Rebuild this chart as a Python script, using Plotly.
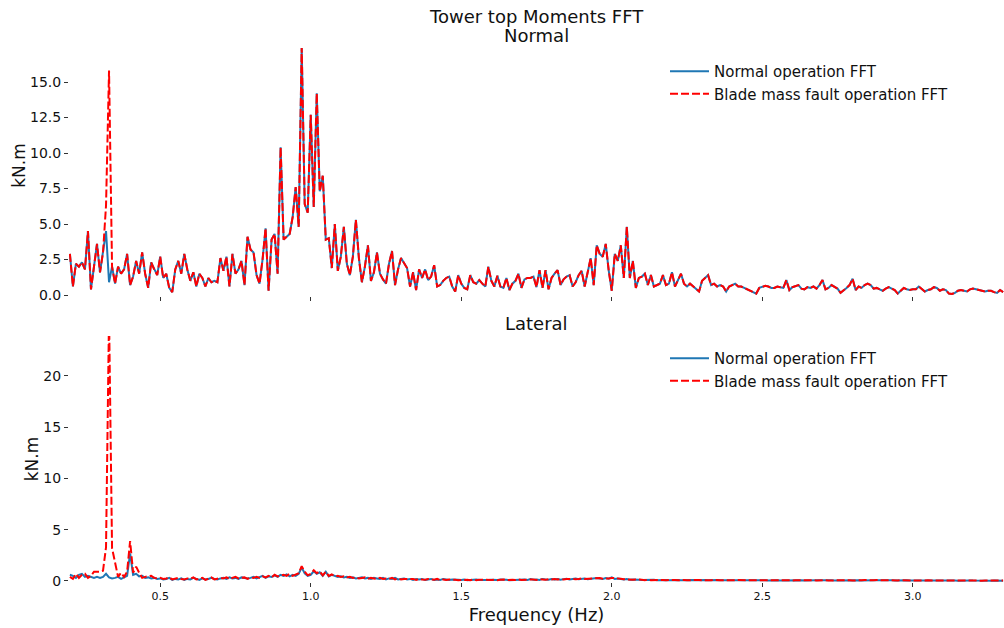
import numpy as np
import plotly.graph_objects as go

# Frequency grid (Hz), 0.01 Hz resolution from 0.20 to 3.30
freq = np.round(0.20 + 0.01 * np.arange(311), 2)

# Tower top moments FFT - "Normal" direction (kN.m)
normal_top = [
    2.9, 0.6, 2.2, 2.0, 2.3, 1.8, 4.5, 0.4, 2.0, 3.6,
    1.6, 3.0, 4.5, 0.9, 2.0, 0.8, 2.0, 1.5, 1.8, 2.9,
    0.7, 1.3, 2.4, 1.5, 3.0, 1.5, 0.5, 2.3, 1.8, 1.4,
    2.7, 1.2, 1.5, 0.5, 0.2, 1.8, 2.4, 1.5, 2.9, 1.8,
    1.0, 1.6, 0.6, 1.5, 1.2, 0.6, 1.2, 0.9, 1.0, 0.9,
    2.6, 1.7, 2.7, 0.6, 2.9, 1.5, 1.8, 2.4, 0.7, 4.1,
    3.2, 3.0, 1.4, 0.8, 2.5, 4.7, 0.3, 3.9, 4.3, 1.5,
    10.4, 3.9, 4.1, 4.3, 5.5, 7.6, 4.8, 17.4, 6.4, 5.8,
    12.7, 6.2, 14.2, 7.3, 8.4, 3.9, 4.0, 1.9, 5.0, 1.7,
    2.7, 4.8, 2.2, 1.4, 2.7, 5.3, 2.6, 0.9, 2.0, 3.5,
    1.0, 1.6, 3.0, 1.5, 1.1, 0.8, 2.2, 3.1, 0.7, 1.8,
    2.6, 2.2, 1.9, 0.6, 1.6, 0.35, 1.8, 1.2, 1.8, 1.05,
    1.3, 2.1, 0.6, 0.7, 1.0, 1.2, 1.3, 0.6, 0.25, 1.4,
    0.8, 0.5, 0.4, 1.4, 0.9, 0.8, 1.05, 0.8, 0.6, 2.0,
    1.0, 0.6, 1.35, 0.6, 0.5, 1.2, 0.35, 0.8, 1.0, 1.5,
    0.5, 1.1, 1.2, 1.2, 1.3, 0.55, 1.75, 0.5, 1.75, 0.4,
    1.2, 1.5, 1.75, 0.7, 1.1, 1.3, 1.4, 0.6, 0.9, 1.4,
    1.7, 0.6, 1.5, 2.6, 0.7, 3.5, 2.9, 2.7, 3.6, 1.7,
    0.3, 2.9, 2.4, 3.5, 1.2, 4.8, 1.2, 2.4, 0.5, 1.2,
    1.3, 1.5, 0.7, 1.4, 0.6, 0.7, 0.8, 1.4, 0.7, 0.8,
    1.6, 0.6, 1.0, 1.5, 0.8, 0.6, 0.8, 0.6, 0.4, 0.25,
    1.0, 1.2, 1.4, 0.7, 0.8, 0.6, 0.7, 0.6, 0.25, 0.6,
    0.7, 0.8, 0.6, 0.6, 0.5, 0.4, 0.35, 0.2, 0.1, 0.5,
    0.6, 0.65, 0.6, 0.5, 0.5, 0.6, 0.55, 0.5, 1.05, 0.35,
    0.55, 0.6, 0.7, 0.45, 0.4, 0.55, 0.5, 0.6, 0.45, 0.7,
    1.05, 0.4, 0.5, 0.7, 0.6, 0.45, 0.15, 0.3, 0.5, 0.7,
    1.15, 0.35, 0.6, 0.5, 0.7, 0.8, 0.7, 0.45, 0.5, 0.4,
    0.3, 0.45, 0.55, 0.45, 0.35, 0.1, 0.3, 0.5, 0.4, 0.35,
    0.4, 0.4, 0.6, 0.4, 0.25, 0.35, 0.4, 0.55, 0.5, 0.3,
    0.4, 0.35, 0.1, 0.07, 0.15, 0.3, 0.35, 0.3, 0.25, 0.4,
    0.45, 0.4, 0.35, 0.3, 0.25, 0.3, 0.3, 0.2, 0.15, 0.35,
    0.2,
]

fault_top = [
    2.9, 0.6, 2.2, 2.0, 2.3, 1.8, 4.5, 0.4, 2.0, 3.6,
    1.6, 3.0, 6.3, 15.8, 2.0, 0.8, 2.0, 1.5, 1.8, 2.9,
    0.7, 1.3, 2.4, 1.5, 3.0, 1.5, 0.5, 2.3, 1.8, 1.4,
    2.7, 1.2, 1.5, 0.5, 0.2, 1.8, 2.4, 1.5, 2.9, 1.8,
    1.0, 1.6, 0.6, 1.5, 1.2, 0.6, 1.2, 0.9, 1.0, 0.9,
    2.6, 1.7, 2.7, 0.6, 2.9, 1.5, 1.8, 2.4, 0.7, 4.1,
    3.2, 3.0, 1.4, 0.8, 2.5, 4.7, 0.3, 3.9, 4.3, 1.5,
    10.4, 3.9, 4.1, 4.3, 5.5, 7.6, 4.8, 17.4, 6.4, 5.8,
    12.7, 6.2, 14.2, 7.3, 8.4, 3.9, 4.0, 1.9, 5.0, 1.7,
    2.7, 4.8, 2.2, 1.4, 2.7, 5.3, 2.6, 0.9, 2.0, 3.5,
    1.0, 1.6, 3.0, 1.5, 1.1, 0.8, 2.2, 3.1, 0.7, 1.8,
    2.6, 2.2, 1.9, 0.6, 1.6, 0.35, 1.8, 1.2, 1.8, 1.05,
    1.3, 2.1, 0.6, 0.7, 1.0, 1.2, 1.3, 0.6, 0.25, 1.4,
    0.8, 0.5, 0.4, 1.4, 0.9, 0.8, 1.05, 0.8, 0.6, 2.0,
    1.0, 0.6, 1.35, 0.6, 0.5, 1.2, 0.35, 0.8, 1.0, 1.5,
    0.5, 1.1, 1.2, 1.2, 1.3, 0.55, 1.75, 0.5, 1.75, 0.4,
    1.2, 1.5, 1.75, 0.7, 1.1, 1.3, 1.4, 0.6, 0.9, 1.4,
    1.7, 0.6, 1.5, 2.6, 0.7, 3.5, 2.9, 2.7, 3.6, 1.7,
    0.3, 2.9, 2.4, 3.5, 1.2, 4.8, 1.2, 2.4, 0.5, 1.2,
    1.3, 1.5, 0.7, 1.4, 0.6, 0.7, 0.8, 1.4, 0.7, 0.8,
    1.6, 0.6, 1.0, 1.5, 0.8, 0.6, 0.8, 0.6, 0.4, 0.25,
    1.0, 1.2, 1.4, 0.7, 0.8, 0.6, 0.7, 0.6, 0.25, 0.6,
    0.7, 0.8, 0.6, 0.6, 0.5, 0.4, 0.35, 0.2, 0.1, 0.5,
    0.6, 0.65, 0.6, 0.5, 0.5, 0.6, 0.55, 0.5, 1.05, 0.35,
    0.55, 0.6, 0.7, 0.45, 0.4, 0.55, 0.5, 0.6, 0.45, 0.7,
    1.05, 0.4, 0.5, 0.7, 0.6, 0.45, 0.15, 0.3, 0.5, 0.7,
    1.15, 0.35, 0.6, 0.5, 0.7, 0.8, 0.7, 0.45, 0.5, 0.4,
    0.3, 0.45, 0.55, 0.45, 0.35, 0.1, 0.3, 0.5, 0.4, 0.35,
    0.4, 0.4, 0.6, 0.4, 0.25, 0.35, 0.4, 0.55, 0.5, 0.3,
    0.4, 0.35, 0.1, 0.07, 0.15, 0.3, 0.35, 0.3, 0.25, 0.4,
    0.45, 0.4, 0.35, 0.3, 0.25, 0.3, 0.3, 0.2, 0.15, 0.35,
    0.2,
]

# Tower top moments FFT - "Lateral" direction (kN.m)
normal_lat = [
    0.6, 0.5, 0.3, 0.6, 0.7, 0.4, 0.5, 0.4, 0.3, 0.4,
    0.3, 0.4, 0.7, 0.35, 0.25, 0.3, 0.4, 0.2, 0.35, 0.5,
    2.7, 0.6, 0.7, 0.45, 0.5, 0.3, 0.35, 0.25, 0.3, 0.2,
    0.25, 0.15, 0.2, 0.3, 0.1, 0.2, 0.15, 0.25, 0.1, 0.2,
    0.15, 0.3, 0.2, 0.1, 0.25, 0.15, 0.2, 0.3, 0.2, 0.15,
    0.25, 0.3, 0.2, 0.35, 0.25, 0.3, 0.2, 0.35, 0.3, 0.25,
    0.3, 0.4, 0.25, 0.35, 0.5, 0.3, 0.45, 0.4, 0.55, 0.4,
    0.6, 0.5, 0.65, 0.45, 0.6, 0.5, 0.7, 1.3, 0.75, 0.5,
    0.6, 0.95, 0.7, 0.85, 0.5, 0.9, 0.45, 0.6, 0.5, 0.4,
    0.45, 0.35, 0.4, 0.3, 0.35, 0.25, 0.3, 0.35, 0.25, 0.3,
    0.2, 0.3, 0.25, 0.2, 0.3, 0.15, 0.25, 0.2, 0.3, 0.15,
    0.2, 0.25, 0.15, 0.2, 0.1, 0.2, 0.15, 0.2, 0.1, 0.15,
    0.2, 0.1, 0.15, 0.1, 0.2, 0.15, 0.1, 0.15, 0.1, 0.12,
    0.1, 0.15, 0.08, 0.12, 0.1, 0.15, 0.1, 0.08, 0.12, 0.1,
    0.12, 0.08, 0.1, 0.15, 0.1, 0.12, 0.08, 0.1, 0.15, 0.1,
    0.12, 0.15, 0.1, 0.18, 0.12, 0.15, 0.1, 0.2, 0.15, 0.12,
    0.18, 0.15, 0.2, 0.12, 0.18, 0.22, 0.15, 0.2, 0.25, 0.18,
    0.2, 0.25, 0.18, 0.22, 0.2, 0.3, 0.25, 0.2, 0.28, 0.22,
    0.35, 0.2, 0.25, 0.18, 0.15, 0.2, 0.12, 0.15, 0.1, 0.12,
    0.1, 0.12, 0.08, 0.1, 0.12, 0.08, 0.1, 0.07, 0.1, 0.08,
    0.1, 0.07, 0.09, 0.06, 0.08, 0.1, 0.07, 0.09, 0.06, 0.08,
    0.07, 0.09, 0.06, 0.08, 0.07, 0.1, 0.06, 0.08, 0.07, 0.06,
    0.08, 0.06, 0.07, 0.09, 0.06, 0.08, 0.05, 0.07, 0.06, 0.08,
    0.06, 0.07, 0.05, 0.08, 0.06, 0.07, 0.05, 0.06, 0.08, 0.05,
    0.07, 0.05, 0.06, 0.08, 0.05, 0.07, 0.06, 0.05, 0.07, 0.06,
    0.08, 0.05, 0.06, 0.07, 0.05, 0.06, 0.08, 0.05, 0.07, 0.06,
    0.07, 0.06, 0.08, 0.05, 0.07, 0.09, 0.06, 0.08, 0.06, 0.07,
    0.09, 0.06, 0.08, 0.07, 0.05, 0.07, 0.06, 0.05, 0.07, 0.05,
    0.06, 0.05, 0.07, 0.04, 0.06, 0.05, 0.04, 0.06, 0.05, 0.04,
    0.05, 0.04, 0.06, 0.04, 0.05, 0.03, 0.05, 0.04, 0.03, 0.05,
    0.04, 0.03, 0.05, 0.04, 0.03, 0.04, 0.03, 0.04, 0.03, 0.04,
    0.03,
]

fault_lat = [
    0.4, 0.2, 0.7, 0.3, 0.6, 0.7, 0.3, 0.5, 0.9, 0.9,
    0.9, 1.0, 3.3, 26.0, 3.2, 1.8, 0.4, 0.8, 0.4, 0.9,
    3.9, 0.8, 1.4, 0.8, 0.3, 0.4, 0.45, 0.5, 0.3, 0.25,
    0.3, 0.2, 0.25, 0.35, 0.15, 0.2, 0.3, 0.2, 0.15, 0.25,
    0.2, 0.35, 0.15, 0.2, 0.3, 0.1, 0.25, 0.35, 0.15, 0.2,
    0.3, 0.25, 0.35, 0.2, 0.3, 0.4, 0.25, 0.3, 0.35, 0.2,
    0.35, 0.3, 0.4, 0.3, 0.45, 0.35, 0.5, 0.35, 0.6, 0.45,
    0.55, 0.6, 0.5, 0.7, 0.5, 0.6, 0.75, 1.45, 0.9, 0.55,
    0.7, 1.05, 0.75, 0.95, 0.55, 0.9, 0.5, 0.65, 0.45, 0.5,
    0.4, 0.45, 0.35, 0.4, 0.3, 0.35, 0.25, 0.3, 0.35, 0.2,
    0.3, 0.25, 0.2, 0.3, 0.2, 0.25, 0.2, 0.3, 0.15, 0.25,
    0.15, 0.2, 0.2, 0.15, 0.2, 0.1, 0.2, 0.15, 0.12, 0.2,
    0.15, 0.12, 0.2, 0.08, 0.15, 0.1, 0.15, 0.1, 0.12, 0.08,
    0.12, 0.1, 0.12, 0.08, 0.15, 0.08, 0.12, 0.1, 0.08, 0.12,
    0.1, 0.12, 0.08, 0.12, 0.15, 0.08, 0.12, 0.12, 0.1, 0.15,
    0.1, 0.12, 0.15, 0.12, 0.15, 0.1, 0.18, 0.15, 0.12, 0.18,
    0.15, 0.2, 0.15, 0.18, 0.15, 0.2, 0.18, 0.22, 0.18, 0.2,
    0.25, 0.2, 0.22, 0.18, 0.25, 0.22, 0.28, 0.22, 0.2, 0.25,
    0.3, 0.25, 0.2, 0.22, 0.18, 0.15, 0.18, 0.12, 0.15, 0.1,
    0.12, 0.08, 0.12, 0.08, 0.1, 0.12, 0.08, 0.1, 0.08, 0.1,
    0.07, 0.1, 0.06, 0.09, 0.1, 0.07, 0.09, 0.06, 0.08, 0.1,
    0.08, 0.06, 0.09, 0.07, 0.1, 0.06, 0.08, 0.07, 0.09, 0.08,
    0.06, 0.08, 0.09, 0.06, 0.08, 0.06, 0.08, 0.05, 0.08, 0.06,
    0.08, 0.05, 0.07, 0.06, 0.08, 0.05, 0.07, 0.08, 0.05, 0.07,
    0.05, 0.07, 0.08, 0.05, 0.07, 0.05, 0.08, 0.07, 0.05, 0.08,
    0.06, 0.07, 0.05, 0.06, 0.08, 0.05, 0.06, 0.07, 0.05, 0.08,
    0.05, 0.08, 0.06, 0.07, 0.09, 0.06, 0.08, 0.06, 0.09, 0.05,
    0.07, 0.08, 0.06, 0.05, 0.07, 0.05, 0.07, 0.06, 0.05, 0.06,
    0.05, 0.07, 0.05, 0.06, 0.04, 0.06, 0.05, 0.04, 0.06, 0.05,
    0.04, 0.06, 0.04, 0.05, 0.04, 0.05, 0.04, 0.03, 0.05, 0.04,
    0.03, 0.05, 0.04, 0.03, 0.04, 0.03, 0.04, 0.03, 0.04, 0.03,
    0.04,
]

x_ticks = [0.5, 1.0, 1.5, 2.0, 2.5, 3.0]
x_tick_labels = ["0.5", "1.0", "1.5", "2.0", "2.5", "3.0"]
top_y_ticks = [0.0, 2.5, 5.0, 7.5, 10.0, 12.5, 15.0]
top_y_labels = ["0.0", "2.5", "5.0", "7.5", "10.0", "12.5", "15.0"]
lat_y_ticks = [0, 5, 10, 15, 20]
lat_y_labels = ["0", "5", "10", "15", "20"]

title_main = "Tower top Moments FFT"
title_top = "Normal"
title_bottom = "Lateral"
name_normal = "Normal operation FFT"
name_fault = "Blade mass fault operation FFT"

BLUE = "#1f77b4"
RED = "#ff0000"
FONT = "DejaVu Sans"

fig = go.Figure()

fig.add_trace(go.Scatter(x=freq, y=normal_top, mode="lines", name=name_normal,
                         line=dict(color=BLUE, width=2), xaxis="x", yaxis="y",
                         legend="legend", legendgroup="a"))
fig.add_trace(go.Scatter(x=freq, y=fault_top, mode="lines", name=name_fault,
                         line=dict(color=RED, width=2, dash="8px,3px"), xaxis="x", yaxis="y",
                         legend="legend", legendgroup="b"))
fig.add_trace(go.Scatter(x=freq, y=normal_lat, mode="lines", name=name_normal,
                         line=dict(color=BLUE, width=2), xaxis="x2", yaxis="y2",
                         legend="legend2", legendgroup="c"))
fig.add_trace(go.Scatter(x=freq, y=fault_lat, mode="lines", name=name_fault,
                         line=dict(color=RED, width=2, dash="8px,3px"), xaxis="x2", yaxis="y2",
                         legend="legend2", legendgroup="d"))

# plot-area geometry: l=69, r=0, t=35, b=46 -> area height 547
top_dom = [(582 - 296) / 547, 1.0]
bot_dom = [0.0, (582 - 336) / 547]

axis_common = dict(showgrid=False, zeroline=False, showline=False,
                   ticks="outside", ticklen=4, tickwidth=1, tickcolor="#333333",
                   tickfont=dict(family=FONT, size=14, color="#111111"))

legend_common = dict(xanchor="left", yanchor="top", bgcolor="rgba(255,255,255,0)",
                     font=dict(family=FONT, size=15), traceorder="grouped",
                     tracegroupgap=0, itemwidth=39)

fig.update_layout(
    width=1004, height=628,
    margin=dict(l=69, r=0, t=35, b=46),
    paper_bgcolor="white", plot_bgcolor="white",
    font=dict(family=FONT, color="#111111"),
    xaxis=dict(domain=[0, 1], anchor="y", range=[0.197, 3.303],
               tickvals=x_ticks, ticktext=[""] * len(x_ticks),
               showgrid=False, zeroline=False, showline=False,
               ticks="outside", ticklen=4, tickwidth=1, tickcolor="#333333"),
    yaxis=dict(domain=top_dom, anchor="x", range=[-0.07, 18.31],
               tickvals=top_y_ticks, ticktext=top_y_labels,
               title=dict(text="kN.m", font=dict(family=FONT, size=17), standoff=0),
               **axis_common),
    xaxis2=dict(domain=[0, 1], anchor="y2", range=[0.197, 3.303], matches="x",
                tickvals=x_ticks, ticktext=x_tick_labels,
                title=dict(text="Frequency (Hz)", font=dict(family=FONT, size=18), standoff=6),
                showgrid=False, zeroline=False, showline=False,
                ticks="outside", ticklen=4, tickwidth=1, tickcolor="#333333",
                tickfont=dict(family=FONT, size=11, color="#111111")),
    yaxis2=dict(domain=bot_dom, anchor="x2", range=[-0.1, 23.9],
                tickvals=lat_y_ticks, ticktext=lat_y_labels,
                title=dict(text="kN.m", font=dict(family=FONT, size=17), standoff=0),
                **axis_common),
    legend=dict(x=(665 - 69) / 935, y=(582 - 55) / 547, **legend_common),
    legend2=dict(x=(665 - 69) / 935, y=(582 - 342) / 547, **legend_common),
    annotations=[
        dict(text=title_main, x=0.5, y=(582 - 17) / 547, xref="paper", yref="paper",
             showarrow=False, xanchor="center", yanchor="middle",
             font=dict(family=FONT, size=18)),
        dict(text=title_top, x=0.5, y=(582 - 36) / 547, xref="paper", yref="paper",
             showarrow=False, xanchor="center", yanchor="middle",
             font=dict(family=FONT, size=18)),
        dict(text=title_bottom, x=0.5, y=(582 - 323) / 547, xref="paper", yref="paper",
             showarrow=False, xanchor="center", yanchor="middle",
             font=dict(family=FONT, size=18)),
    ],
)

fig.write_html("out.html")
